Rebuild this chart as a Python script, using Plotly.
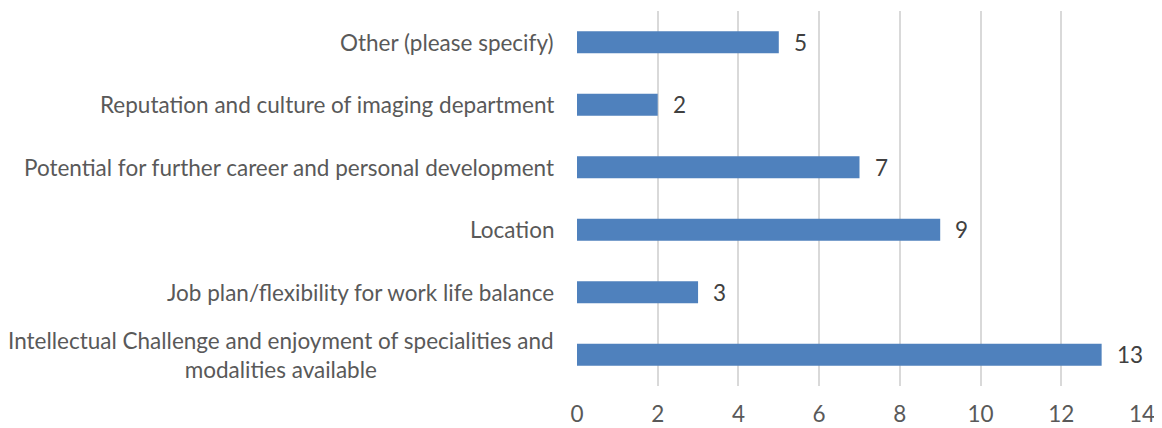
import plotly.graph_objects as go

categories = [
    "Other (please specify)",
    "Reputation and culture of imaging department",
    "Potential for further career and personal development",
    "Location",
    "Job plan/flexibility for work life balance",
    "Intellectual Challenge and enjoyment of specialities and<br>modalities available",
]
values = [5, 2, 7, 9, 3, 13]
x_ticks = [0, 2, 4, 6, 8, 10, 12, 14]

FONT = "Lato"
FS = 22.5
fig = go.Figure()
fig.add_trace(go.Bar(
    x=values, y=categories, orientation="h",
    marker=dict(color="#4f81bd", line=dict(width=0)),
    hoverinfo="x+y",
))

for c, v in zip(categories, values):
    fig.add_annotation(x=v, y=c, xref="x", yref="y", text=str(v), showarrow=False,
                       xanchor="left", xshift=13, font=dict(family=FONT, size=FS, color="#404040"))
    fig.add_annotation(x=0, y=c, xref="paper", yref="y", text=c, showarrow=False,
                       xanchor="right", align="center", xshift=-21,
                       font=dict(family=FONT, size=FS, color="#595959"))

fig.update_layout(
    width=1154, height=420,
    margin=dict(l=569, r=20, t=3, b=42),
    paper_bgcolor="white", plot_bgcolor="white",
    bargap=0.648,
    showlegend=False,
    xaxis=dict(range=[0, 14], tickvals=x_ticks, showgrid=True, gridcolor="#d9d9d9", gridwidth=1.5,
               zeroline=False, showline=False, ticks="outside", ticklen=8, tickcolor="rgba(0,0,0,0)",
               automargin=False,
               tickfont=dict(family=FONT, size=FS, color="#595959")),
    yaxis=dict(autorange="reversed", showticklabels=False, showgrid=False, zeroline=False, showline=False,
               automargin=False),
)
fig.write_html("out.html")
